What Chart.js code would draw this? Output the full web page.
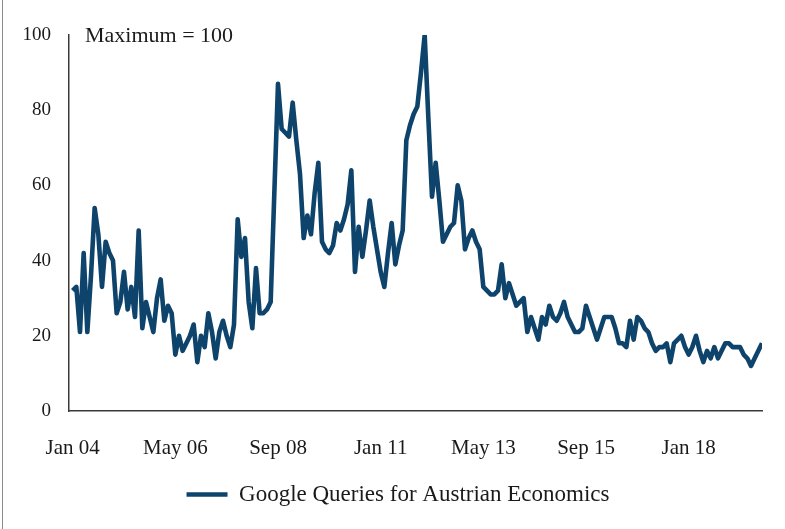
<!DOCTYPE html>
<html>
<head>
<meta charset="utf-8">
<script src="https://cdn.jsdelivr.net/npm/chart.js@4"></script>
<style>
  html, body { margin: 0; padding: 0; background: #fff; }
  #wrap { width: 785px; height: 529px; position: relative; }
  #wrap:before { content: ''; position: absolute; left: 2px; top: 0; bottom: 0; border-left: 1px solid #8a8a8a; }
</style>
</head>
<body>
<div id="wrap"><canvas id="c" width="785" height="529"></canvas></div>
<script>
// monthly index, Jan 2004 .. Sep 2019 (maximum = 100)
var monthNames = ['Jan','Feb','Mar','Apr','May','Jun','Jul','Aug','Sep','Oct','Nov','Dec'];
var firstYear = 2004;
var queries = [
  32, 33, 21, 42, 21, 36, 54, 47, 33, 45, 42, 40,
  26, 29, 37, 27, 33, 25, 48, 22, 29, 25, 21, 30,
  35, 24, 28, 26, 15, 20, 16, 18, 20, 23, 13, 20,
  17, 26, 21, 14, 21, 24, 20, 17, 23, 51, 41, 46,
  29, 22, 38, 26, 26, 27, 29, 58, 87, 75, 74, 73,
  82, 72, 63, 46, 52, 47, 58, 66, 45, 43, 42, 44,
  50, 48, 51, 55, 64, 37, 49, 41, 48, 56, 49, 43,
  37, 33, 42, 50, 39, 44, 48, 72, 76, 79, 81, 90,
  100, 78, 57, 66, 56, 45, 47, 49, 50, 60, 56, 43,
  46, 48, 45, 43, 33, 32, 31, 31, 32, 39, 30, 34,
  31, 28, 29, 30, 21, 25, 22, 19, 25, 23, 28, 25,
  24, 26, 29, 25, 23, 21, 21, 22, 28, 25, 22, 19,
  22, 25, 25, 25, 22, 18, 18, 17, 24, 19, 25, 24,
  22, 21, 18, 16, 17, 17, 18, 13, 18, 19, 20, 17,
  15, 17, 20, 16, 13, 16, 14, 17, 14, 16, 18, 18,
  17, 17, 17, 15, 14, 12, 14, 16, 18
];
var tickMonths = [0, 28, 56, 84, 112, 140, 168];
var seriesName = 'Google Queries for Austrian Economics';
var noteText = 'Maximum = 100';

var months = queries.map(function(v, i) {
    var y = firstYear + Math.floor(i / 12);
    return monthNames[i % 12] + ' ' + String(y).slice(2);
});

var serif = '"Liberation Serif", "Times New Roman", serif';
var navy = '#0e436c';

var noteLabel = {
    id: 'noteLabel',
    afterLayout: function(chart) {
        // legend in the original sits a little right of centre
        chart.legend.left += 17;
        chart.legend.right += 17;
    },
    afterDraw: function(chart) {
        var ctx = chart.ctx, area = chart.chartArea;
        ctx.save();
        ctx.font = '22px ' + serif;
        ctx.fillStyle = '#1a1a1a';
        ctx.textBaseline = 'middle';
        ctx.fillText(noteText, area.left + 16, area.top + 1);
        ctx.restore();
    }
};

new Chart(document.getElementById('c'), {
    type: 'line',
    data: {
        datasets: [{
            label: seriesName,
            data: queries.map(function(v, i) { return {x: i, y: v}; }),
            borderColor: navy,
            backgroundColor: navy,
            borderWidth: 4.6,
            borderJoinStyle: 'round',
            pointRadius: 0,
            fill: false,
            tension: 0
        }]
    },
    options: {
        responsive: false,
        animation: false,
        layout: { padding: { left: 0, right: 23, top: 35, bottom: 13 } },
        scales: {
            x: {
                type: 'linear',
                min: -1,
                max: queries.length - 1,
                grid: { display: false, drawTicks: false },
                border: { display: true, color: '#3a3a3a', width: 1.5 },
                afterBuildTicks: function(scale) {
                    scale.ticks = tickMonths.map(function(m) { return {value: m}; });
                },
                afterFit: function(scale) { scale.height = 62; },
                ticks: {
                    autoSkip: false,
                    maxRotation: 0,
                    padding: 25,
                    color: '#1a1a1a',
                    font: { family: serif, size: 21 },
                    callback: function(v) { return months[v]; }
                }
            },
            y: {
                min: 0,
                max: 100,
                grid: { display: false, drawTicks: false },
                border: { display: true, color: '#3a3a3a', width: 1.5 },
                afterFit: function(scale) { scale.width = 69; },
                ticks: {
                    stepSize: 20,
                    padding: 18,
                    color: '#1a1a1a',
                    font: { family: serif, size: 19 }
                }
            }
        },
        plugins: {
            tooltip: { enabled: false },
            legend: {
                position: 'bottom',
                labels: {
                    usePointStyle: true,
                    pointStyle: 'line',
                    pointStyleWidth: 41,
                    padding: 10,
                    color: '#1a1a1a',
                    font: { family: serif, size: 23 }
                }
            }
        }
    },
    plugins: [noteLabel]
});
</script>
</body>
</html>
